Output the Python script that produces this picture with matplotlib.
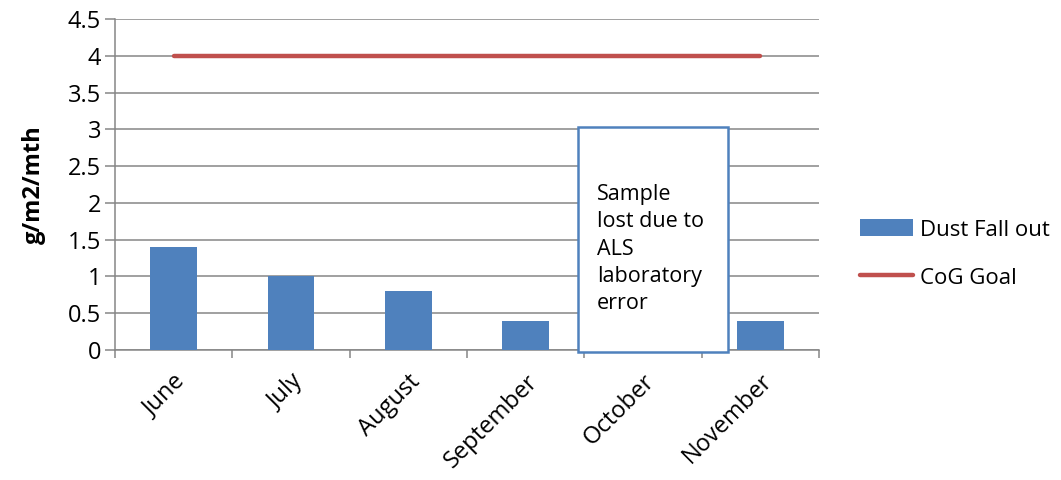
import matplotlib
matplotlib.use("Agg")
import matplotlib.pyplot as plt
import numpy as np
from matplotlib.patches import Rectangle

plt.rcParams["font.family"] = ["Open Sans", "DejaVu Sans"]

# ---------------------------------------------------
# Data
# ---------------------------------------------------
months = ["June", "July", "August", "September", "October", "November"]
dust = [1.4, 1.0, 0.8, 0.4, 0.0, 0.4]
goal = [4, 4, 4, 4, 4, 4]
y_ticks = [0, 0.5, 1, 1.5, 2, 2.5, 3, 3.5, 4, 4.5]
note = "Sample\nlost due to\nALS\nlaboratory\nerror"

grey = "#868686"
blue = "#4F81BD"
red = "#C0504D"
fs = 17

fig = plt.figure(figsize=(10.61, 4.8), dpi=100)
ax = fig.add_axes([115 / 1061, 1 - 350 / 480, 704 / 1061, 331 / 480])

x = np.arange(len(months))
bars = ax.bar(x, dust, width=0.4, color=blue, label="Dust Fall out", zorder=3)
line, = ax.plot(x, goal, color=red, linewidth=3.2, solid_capstyle="round",
                label="CoG Goal", zorder=4)

ax.set_xlim(-0.5, len(months) - 0.5)
ax.set_ylim(0, 4.5)
ax.set_yticks(y_ticks)
ax.set_yticklabels([f"{v:g}" for v in y_ticks], fontsize=fs)
ax.grid(axis="y", color=grey, linewidth=1.1, zorder=0)

ax.set_xticks(x)
ax.set_xticklabels(months, rotation=45, ha="right", va="top",
                   rotation_mode="anchor", fontsize=fs)
ax.set_xticks(np.arange(-0.5, len(months)), minor=True)
ax.tick_params(axis="x", which="major", length=0, pad=14)
ax.tick_params(axis="x", which="minor", length=6, color=grey, width=1.1)
ax.tick_params(axis="y", length=7, color=grey, width=1.1, pad=3)

for s in ["top", "right"]:
    ax.spines[s].set_visible(False)
for s in ["left", "bottom"]:
    ax.spines[s].set_color(grey)
    ax.spines[s].set_linewidth(1.1)

ax.set_ylabel("g/m2/mth", fontsize=17, fontweight="bold", labelpad=16)

# note box over October
box = Rectangle((0.658, -0.006), 0.213, 0.68, transform=ax.transAxes,
                facecolor="white", edgecolor=blue, linewidth=1.8,
                zorder=5, clip_on=False)
ax.add_patch(box)
ax.text(0.685, 0.305, note, transform=ax.transAxes, fontsize=15.5,
        va="center", ha="left", linespacing=1.4, zorder=6)

fig.legend([bars, line], ["Dust Fall out", "CoG Goal"],
           loc="center left", bbox_to_anchor=(840 / 1061, 1 - 254 / 480),
           frameon=False, fontsize=16, handlelength=2.4,
           handleheight=0.8, labelspacing=1.2, handletextpad=0.3)

fig.savefig("out.png", dpi=100)
